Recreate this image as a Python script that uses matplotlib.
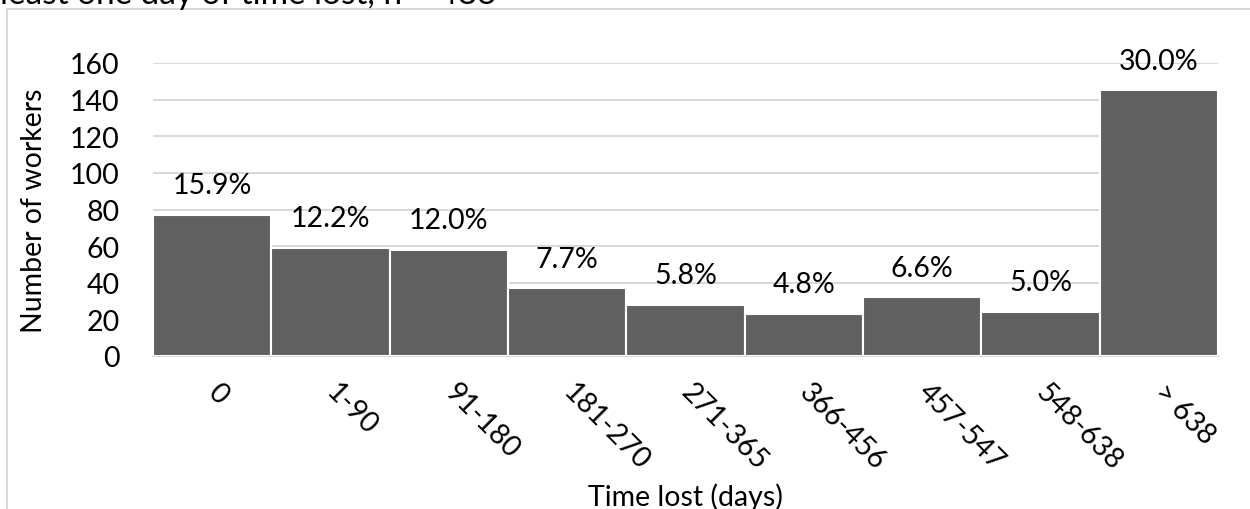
import matplotlib.pyplot as plt
from matplotlib.patches import Rectangle

# categories of time lost and number of workers in each
categories = ["0", "1-90", "91-180", "181-270", "271-365", "366-456", "457-547", "548-638", "> 638"]
workers = [77, 59, 58, 37, 28, 23, 32, 24, 145]
percent_labels = ["15.9%", "12.2%", "12.0%", "7.7%", "5.8%", "4.8%", "6.6%", "5.0%", "30.0%"]
yticks = [0, 20, 40, 60, 80, 100, 120, 140, 160]

plt.rcParams['font.family'] = ['Lato', 'DejaVu Sans']
fs = 20.5

fig = plt.figure(figsize=(12.5, 5.1), dpi=100)
ax = fig.add_axes([153 / 1250, 1 - 357 / 510, (1218 - 153) / 1250, (357 - 64) / 510])

# outer chart border (cut off by the image edges)
fig.patches.append(Rectangle((7 / 1250, -0.1), 1.2, 1 - 10 / 510 + 0.1, transform=fig.transFigure,
                             fill=False, edgecolor="#d9d9d9", linewidth=1.5, zorder=0))

# title line, mostly cropped like in the source image
fig.text(0.0, 1 - 4 / 510, "least one day of time lost, n = 483", fontsize=24, va="baseline", ha="left")

x = range(len(categories))
bars = ax.bar(x, workers, width=1.0, color="#606060", edgecolor="white", linewidth=1.5, zorder=3)

for xi, w, lab in zip(x, workers, percent_labels):
    ax.annotate(lab, (xi, w), xytext=(0, 12), textcoords="offset points", ha="center", va="bottom", fontsize=fs)

ax.set_xlim(-0.5, len(categories) - 0.5)
ax.set_ylim(0, 160)
ax.set_yticks(yticks)
ax.set_yticklabels([str(t) for t in yticks], fontsize=fs)
ax.yaxis.grid(True, color="#d9d9d9", linewidth=1.5, zorder=0)
ax.set_axisbelow(True)

ax.set_xticks(list(x))
ax.set_xticklabels(categories, fontsize=fs, rotation=-45, ha="left", va="center", rotation_mode="anchor")
for t in ax.get_xticklabels():
    t.set_y(-0.08)
ax.tick_params(axis="x", length=0, pad=6)
ax.tick_params(axis="y", length=0, pad=24)

for s in ["top", "right", "left"]:
    ax.spines[s].set_visible(False)
ax.spines["bottom"].set_color("#d9d9d9")
ax.spines["bottom"].set_linewidth(1.5)

ax.set_ylabel("Number of workers", fontsize=fs)
ax.yaxis.set_label_coords((47 - 153) / 1065, 0.5)
fig.text((153 + 1218) / 2 / 1250, 1 - 497 / 510, "Time lost (days)", fontsize=fs, ha="center", va="center")

fig.savefig("out.png", dpi=100)
